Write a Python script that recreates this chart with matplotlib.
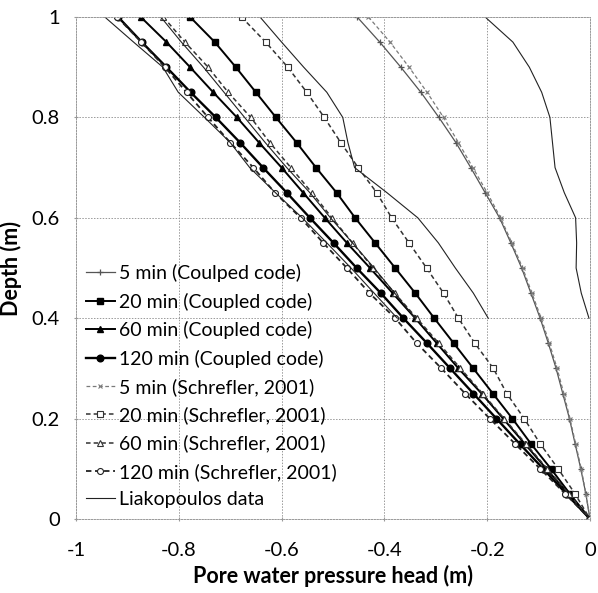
import matplotlib
matplotlib.use("Agg")
import matplotlib.pyplot as plt

plt.rcParams['font.family'] = ['Lato', 'DejaVu Sans']

depth = [1.0, 0.95, 0.9, 0.85, 0.8, 0.75, 0.7, 0.65, 0.6, 0.55, 0.5,
         0.45, 0.4, 0.35, 0.3, 0.25, 0.2, 0.15, 0.1, 0.05, 0.0]
depth_liak = [1.0, 0.95, 0.9, 0.85, 0.8, 0.75, 0.7, 0.65, 0.6, 0.55, 0.5, 0.45, 0.4]

coupled_5 = [-0.453, -0.409, -0.368, -0.329, -0.294, -0.261, -0.232, -0.204, -0.176, -0.154, -0.133,
             -0.115, -0.097, -0.081, -0.066, -0.053, -0.040, -0.029, -0.018, -0.008, 0.0]
coupled_20 = [-0.778, -0.730, -0.689, -0.650, -0.611, -0.571, -0.533, -0.493, -0.457, -0.418, -0.379,
              -0.340, -0.303, -0.265, -0.227, -0.189, -0.151, -0.115, -0.076, -0.039, 0.0]
coupled_60 = [-0.874, -0.824, -0.778, -0.733, -0.687, -0.644, -0.600, -0.558, -0.516, -0.473, -0.428,
              -0.384, -0.340, -0.298, -0.256, -0.211, -0.169, -0.127, -0.085, -0.042, 0.0]
coupled_120 = [-0.918, -0.872, -0.824, -0.777, -0.728, -0.681, -0.636, -0.590, -0.545, -0.499, -0.454,
               -0.407, -0.363, -0.317, -0.272, -0.227, -0.182, -0.137, -0.091, -0.046, 0.0]

schrefler_5 = [-0.431, -0.389, -0.352, -0.317, -0.285, -0.256, -0.228, -0.200, -0.174, -0.152, -0.131,
               -0.113, -0.095, -0.079, -0.064, -0.051, -0.039, -0.028, -0.017, -0.008, 0.0]
schrefler_20 = [-0.678, -0.631, -0.588, -0.551, -0.517, -0.485, -0.451, -0.415, -0.386, -0.352, -0.318,
                -0.285, -0.256, -0.224, -0.188, -0.162, -0.128, -0.097, -0.062, -0.029, 0.0]
schrefler_60 = [-0.830, -0.788, -0.743, -0.704, -0.660, -0.623, -0.582, -0.541, -0.502, -0.462, -0.422,
                -0.380, -0.337, -0.294, -0.252, -0.209, -0.167, -0.125, -0.083, -0.041, 0.0]
schrefler_120 = [-0.920, -0.873, -0.827, -0.785, -0.743, -0.700, -0.655, -0.613, -0.563, -0.519, -0.473,
                 -0.429, -0.379, -0.337, -0.289, -0.243, -0.195, -0.146, -0.097, -0.048, 0.0]

liak_5 = [-0.204, -0.150, -0.118, -0.094, -0.078, -0.073, -0.068, -0.050, -0.028, -0.026, -0.027, -0.017, -0.002]
liak_20 = [-0.642, -0.600, -0.557, -0.512, -0.481, -0.471, -0.458, -0.395, -0.335, -0.295, -0.262, -0.227, -0.198]
liak_60 = [-0.835, -0.795, -0.752, -0.712, -0.672, -0.632, -0.590, -0.545, -0.505, -0.462, -0.420, -0.380, -0.340]
liak_120 = [-0.944, -0.888, -0.831, -0.801, -0.750, -0.700, -0.662, -0.612, -0.560, -0.512, -0.465, -0.420, -0.375]

labels = ["5 min (Coulped code)", "20 min (Coupled code)", "60 min (Coupled code)",
          "120 min (Coupled code)", "5 min (Schrefler, 2001)", "20 min (Schrefler, 2001)",
          "60 min (Schrefler, 2001)", "120 min (Schrefler, 2001)", "Liakopoulos data"]
xticks = [-1, -0.8, -0.6, -0.4, -0.2, 0]
xticklabels = ["-1", "-0.8", "-0.6", "-0.4", "-0.2", "0"]
yticks = [0, 0.2, 0.4, 0.6, 0.8, 1]
yticklabels = ["0", "0.2", "0.4", "0.6", "0.8", "1"]

fig = plt.figure(figsize=(5.98, 5.93), dpi=100)
ax = fig.add_axes([76/598, 74/593, 514/598, 502/593])

dash = (0, (3, 2))
handles = []
h, = ax.plot(coupled_5, depth, color='#555555', lw=0.9, marker='+', ms=5, mew=0.9)
handles.append(h)
h, = ax.plot(coupled_20, depth, color='black', lw=1.4, marker='s', ms=4.2)
handles.append(h)
h, = ax.plot(coupled_60, depth, color='black', lw=1.4, marker='^', ms=4.8)
handles.append(h)
h, = ax.plot(coupled_120, depth, color='black', lw=1.7, marker='o', ms=4.8)
handles.append(h)
h, = ax.plot(schrefler_5, depth, color='#7a7a7a', lw=0.9, ls=dash, marker='x', ms=3.2, mew=0.8)
handles.append(h)
h, = ax.plot(schrefler_20, depth, color='#333333', lw=1.1, ls=dash, marker='s', ms=4.5,
             mfc='white', mew=0.8)
handles.append(h)
h, = ax.plot(schrefler_60, depth, color='#333333', lw=1.1, ls=dash, marker='^', ms=4.8,
             mfc='white', mew=0.8)
handles.append(h)
h, = ax.plot(schrefler_120, depth, color='#222222', lw=1.3, ls=dash, marker='o', ms=4.3,
             mfc='white', mew=0.8)
handles.append(h)
h, = ax.plot(liak_5, depth_liak, color='#222222', lw=0.8)
handles.append(h)
ax.plot(liak_20, depth_liak, color='#222222', lw=0.8)
ax.plot(liak_60, depth_liak, color='#222222', lw=0.8)
ax.plot(liak_120, depth_liak, color='#222222', lw=0.8)

ax.set_xlim(-1, 0)
ax.set_ylim(0, 1)
ax.set_xticks(xticks)
ax.set_xticklabels(xticklabels)
ax.set_yticks(yticks)
ax.set_yticklabels(yticklabels)
ax.grid(True, color='#999999', lw=0.7, ls=(0, (1.5, 1.5)))
for s in ax.spines.values():
    s.set_color('#999999')
    s.set_linewidth(0.7)
    s.set_linestyle((0, (1.5, 1.5)))
ax.tick_params(axis='x', length=3, direction='inout', color='#999999', pad=15, labelsize=14.5)
ax.tick_params(axis='y', length=3, direction='inout', color='#999999', pad=10, labelsize=14.5)
ax.set_xlabel("Pore water pressure head (m)", fontsize=15.5, fontweight='bold', labelpad=4)
ax.set_ylabel("Depth (m)", fontsize=15.5, fontweight='bold', labelpad=7)

leg = ax.legend(handles, labels, loc='upper left', bbox_to_anchor=(0.0, 0.527),
                frameon=False, fontsize=14, handlelength=1.5, handletextpad=0.2,
                labelspacing=0.535, borderaxespad=0.3, borderpad=0.2)

fig.savefig("out.png", dpi=100)
